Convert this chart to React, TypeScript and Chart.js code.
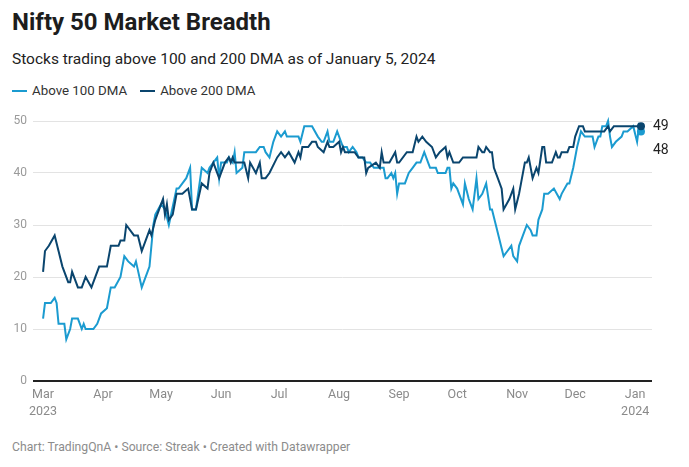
import React, { useEffect, useRef } from "react";
import { Chart, registerables } from "chart.js";

Chart.register(...registerables);

// Days since 2023-03-01 and number of Nifty 50 stocks above the moving average
const days200 = [0,1,3,6,8,10,13,14,15,17,18,20,22,25,29,33,35,39,40,42,43,47,49,51,55,56,58,62,63,64,65,67,69,72,75,77,79,82,85,86,88,91,94,96,97,98,99,102,104,106,107,110,112,113,115,117,121,123,125,127,130,132,133,134,137,139,141,142,145,147,148,150,153,154,155,156,161,163,166,167,168,172,174,175,176,179,182,183,184,188,191,193,194,196,198,201,203,205,208,209,210,212,215,217,224,225,227,228,229,231,232,233,235,237,238,241,243,244,246,247,249,250,251,253,254,255,256,258,259,260,263,265,266,267,268,271,272,274,275,277,279,280,290,292,293,295,309];
const values200 = [21,25,26,28,25,22,19,19,21,19,18,18,20,18,22,22,26,26,27,27,30,28,28,25,29,28,31,35,32,34,31,32,36,36,37,33,33,38,37,40,42,39,42,43,42,43,42,42,42,39,42,40,42,39,39,40,43,44,43,44,42,44,43,45,45,46,46,45,44,46,45,45,46,44,45,44,44,43,43,40,41,42,41,44,42,42,44,42,42,44,44,47,46,47,46,45,43,44,45,43,44,42,42,43,43,45,44,44,45,44,44,41,39,37,33,35,37,33,36,38,42,42,43,39,40,41,40,45,45,42,42,44,43,43,44,44,45,45,47,49,49,48,48,49,48,49,49];

const days100 = [0,1,4,6,7,8,11,12,14,15,18,20,21,22,26,28,29,30,33,35,37,40,42,44,47,48,51,55,57,58,61,63,65,69,70,72,74,76,77,79,82,85,86,88,90,91,92,95,96,98,99,100,103,104,109,110,112,114,115,117,119,121,123,125,126,132,133,135,139,142,144,145,147,148,150,152,154,155,157,158,160,162,163,165,167,169,171,174,176,177,178,180,181,182,183,184,187,189,191,193,195,197,199,200,203,204,208,209,210,211,212,214,215,217,218,220,222,224,225,227,229,231,232,234,238,240,242,243,245,246,248,250,252,253,255,256,258,259,261,264,267,268,271,272,274,276,278,280,284,285,287,288,289,291,292,293,294,296,299,300,302,305,307,308,309];
const values100 = [12,15,15,16,15,11,11,8,10,12,12,10,11,10,10,11,12,13,14,18,18,20,24,23,22,23,18,22,30,32,34,33,30,37,37,38,39,41,33,33,41,40,41,42,43,39,42,42,43,42,44,40,41,44,44,44,45,45,44,43,46,48,47,48,47,47,46,49,49,47,46,46,48,46,46,48,46,45,45,44,45,44,43,43,42,42,41,41,41,39,39,40,39,40,36,38,38,40,41,42,42,44,42,41,41,40,40,41,41,37,38,37,36,34,38,35,33,39,35,36,38,33,33,30,24,25,26,24,23,26,28,30,29,28,28,31,33,36,36,37,35,36,38,38,41,45,48,47,47,45,47,47,49,49,50,47,45,46,47,48,48,49,46,49,48];

// Month ticks (days since 2023-03-01) and their labels
const tickDays = [0,31,61,92,122,153,184,214,245,275,306];
const tickLabels: (string | string[])[] = [["Mar","2023"],"Apr","May","Jun","Jul","Aug","Sep","Oct","Nov","Dec",["Jan","2024"]];
const yTicks = [0,10,20,30,40,50];

const seriesNames = ["Above 100 DMA", "Above 200 DMA"];
const LIGHT = "#1b9bd0";
const DARK = "#0a456e";
const FONT = "Roboto, 'Noto Sans', sans-serif";

const endLabels = {
  id: "endLabels",
  afterDatasetsDraw(chart: any) {
    const ctx = chart.ctx;
    const items: { y: number; x: number; text: string }[] = [];
    chart.data.datasets.forEach((ds: any, i: number) => {
      const meta = chart.getDatasetMeta(i);
      const last = meta.data[meta.data.length - 1];
      const v = ds.data[ds.data.length - 1].y;
      items.push({ x: last.x, y: last.y, text: String(v) });
    });
    items.sort((a, b) => a.y - b.y);
    for (let i = 1; i < items.length; i++) {
      if (items[i].y - items[i - 1].y < 24) items[i].y = items[i - 1].y + 24;
    }
    ctx.save();
    ctx.font = `14px ${FONT}`;
    ctx.fillStyle = "#222";
    ctx.textBaseline = "middle";
    ctx.textAlign = "left";
    items.forEach((it) => ctx.fillText(it.text, it.x + 12, it.y));
    ctx.restore();
  },
};

export default function App() {
  const ref = useRef<HTMLCanvasElement>(null);
  useEffect(() => {
    if (!ref.current) return;
    const mk = (days: number[], vals: number[]) => days.map((d, i) => ({ x: d, y: vals[i] }));
    const d200 = mk(days200, values200);
    const d100 = mk(days100, values100);
    const chart = new Chart(ref.current, {
      type: "line",
      data: {
        datasets: [
          {
            label: seriesNames[1],
            data: d200,
            borderColor: DARK,
            backgroundColor: DARK,
            borderWidth: 2,
            pointRadius: (c: any) => (c.dataIndex === d200.length - 1 ? 4 : 0),
            pointBorderWidth: 0,
            tension: 0,
            clip: false as any,
          },
          {
            label: seriesNames[0],
            data: d100,
            borderColor: LIGHT,
            backgroundColor: LIGHT,
            borderWidth: 2,
            pointRadius: (c: any) => (c.dataIndex === d100.length - 1 ? 4 : 0),
            pointBorderWidth: 0,
            tension: 0,
            clip: false as any,
          },
        ],
      },
      options: {
        animation: false,
        responsive: false,
        maintainAspectRatio: false,
        layout: { padding: { top: 21, right: 37, left: 0, bottom: 0 } },
        plugins: { legend: { display: false }, tooltip: { enabled: false } },
        scales: {
          x: {
            type: "linear",
            min: -5.2,
            max: 314.7,
            afterBuildTicks: (s: any) => {
              s.ticks = tickDays.map((v) => ({ value: v }));
            },
            afterFit: (s: any) => {
              s.height = 49;
            },
            grid: { display: false, drawTicks: false },
            border: { display: false },
            ticks: {
              autoSkip: false,
              maxRotation: 0,
              padding: 6,
              color: "#8a8a8a",
              font: { family: FONT, size: 12.5, lineHeight: 1.3 },
              callback: (v: any) => {
                const i = tickDays.indexOf(Number(v));
                return i >= 0 ? tickLabels[i] : "";
              },
            },
          },
          y: {
            min: 0,
            max: 50,
            afterBuildTicks: (s: any) => {
              s.ticks = yTicks.map((v) => ({ value: v }));
            },
            afterFit: (s: any) => {
              s.width = 33;
            },
            grid: {
              drawTicks: false,
              color: (c: any) => (c.tick && c.tick.value === 0 ? "#222" : "#e3e3e3"),
              lineWidth: (c: any) => (c.tick && c.tick.value === 0 ? 2 : 1),
            },
            border: { display: false },
            ticks: {
              padding: 6,
              color: "#9a9a9a",
              font: { family: FONT, size: 12 },
            },
          },
        },
      },
      plugins: [endLabels],
    });
    return () => chart.destroy();
  }, []);

  const txt: React.CSSProperties = { position: "absolute", left: 12, whiteSpace: "nowrap", fontFamily: FONT };
  return (
    <div style={{ position: "absolute", left: 0, top: 0, width: 689, height: 467, background: "#fff", overflow: "hidden" }}>
      <div style={{ ...txt, top: 8, fontSize: 24, lineHeight: "28px", fontWeight: 700, color: "#1d1d1d" }}>
        Nifty 50 Market Breadth
      </div>
      <div style={{ ...txt, top: 50, fontSize: 15.5, lineHeight: "18px", color: "#222" }}>
        Stocks trading above 100 and 200 DMA as of January 5, 2024
      </div>
      <div style={{ ...txt, top: 83, fontSize: 13.3, lineHeight: "16px", color: "#333", display: "flex", alignItems: "center" }}>
        <span style={{ display: "inline-block", width: 15, height: 2, background: LIGHT, marginRight: 5 }} />
        <span style={{ marginRight: 13 }}>{seriesNames[0]}</span>
        <span style={{ display: "inline-block", width: 15, height: 2, background: DARK, marginRight: 5 }} />
        <span>{seriesNames[1]}</span>
      </div>
      <canvas ref={ref} width={689} height={330} style={{ position: "absolute", left: 0, top: 100, width: 689, height: 330 }} />
      <div style={{ ...txt, top: 440, fontSize: 12.2, lineHeight: "14px", color: "#8c8c8c" }}>
        Chart: TradingQnA • Source: Streak • Created with Datawrapper
      </div>
    </div>
  );
}
